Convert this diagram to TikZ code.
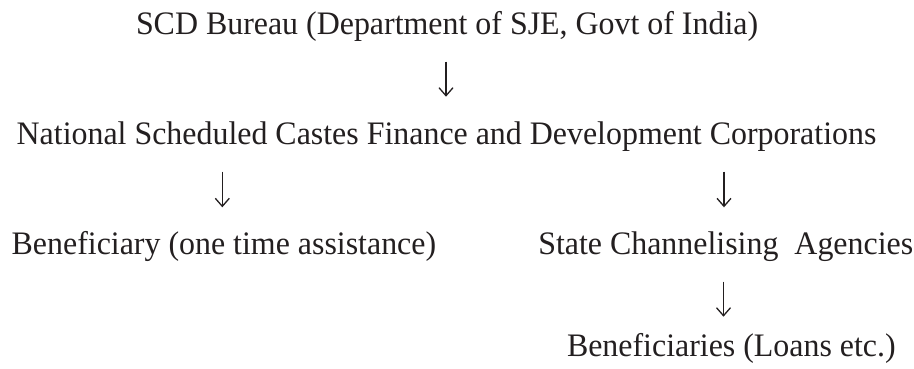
\documentclass[tikz,border=0pt]{standalone}
\usepackage{fontspec}
\setmainfont{Liberation Serif}[FakeStretch=0.973]
\usetikzlibrary{arrows.meta}
\definecolor{ink}{RGB}{35,31,32}
\begin{document}
\begin{tikzpicture}[x=1pt,y=1pt,
  lbl/.style={anchor=base west,inner sep=0pt,outer sep=0pt,text=ink,font=\fontsize{32.8}{38}\selectfont},
  arr/.style={draw=ink,line width=1.3pt,-{Straight Barb[length=8pt,width=14pt,line width=1.3pt]}}]
\useasboundingbox (0,0) rectangle (914,-369);
\node[lbl] (scd) at (136,-34.3) {SCD Bureau (Department of SJE, Govt of India)};
\node[lbl] (nsc) at (16.7,-145) {National Scheduled Castes Finance and Development Corporations};
\node[lbl] (ben) at (11.7,-254.5) {Beneficiary (one time assistance)};
\node[lbl] (sca) at (538.3,-254.5) {State Channelising\ \ Agencies};
\node[lbl] (bl) at (567,-356.7) {Beneficiaries (Loans etc.)};
\coordinate (a1s) at (446,-61.7);
\coordinate (a1e) at (446,-96.7);
\coordinate (a2s) at (222.3,-171.7);
\coordinate (a2e) at (222.3,-207.3);
\coordinate (a3s) at (724,-171.7);
\coordinate (a3e) at (724,-207.3);
\coordinate (a4s) at (723.5,-281.5);
\coordinate (a4e) at (723.5,-316.7);
\draw[arr] (a1s) -- (a1e);
\draw[arr] (a2s) -- (a2e);
\draw[arr] (a3s) -- (a3e);
\draw[arr] (a4s) -- (a4e);
\end{tikzpicture}
\end{document}
